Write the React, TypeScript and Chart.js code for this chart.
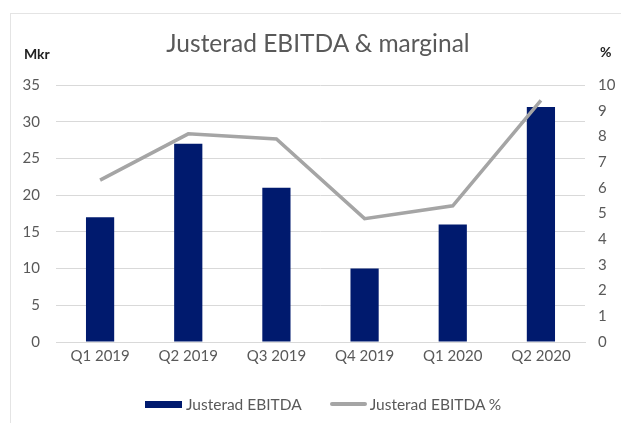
import React, { useEffect, useRef } from "react";
import { Chart, registerables } from "chart.js";

Chart.register(...registerables);

const categories = ["Q1 2019", "Q2 2019", "Q3 2019", "Q4 2019", "Q1 2020", "Q2 2020"];
const ebitda = [17, 27, 21, 10, 16, 32];
const marginal = [6.3, 8.1, 7.9, 4.8, 5.3, 9.4];
const leftTicks = [0, 5, 10, 15, 20, 25, 30, 35];
const rightTicks = [0, 1, 2, 3, 4, 5, 6, 7, 8, 9, 10];

const FONT = "Lato, 'Open Sans', sans-serif";
const TXT = "#595959";

export default function App() {
  const ref = useRef<HTMLCanvasElement>(null);
  useEffect(() => {
    if (!ref.current) return;
    const chart = new Chart(ref.current, {
      data: {
        labels: categories,
        datasets: [
          {
            type: "line",
            label: "Justerad EBITDA %",
            data: marginal,
            borderColor: "#a5a5a5",
            backgroundColor: "#a5a5a5",
            borderWidth: 3.5,
            pointRadius: 0,
            tension: 0,
            yAxisID: "y1",
            order: 0,
          },
          {
            type: "bar",
            label: "Justerad EBITDA",
            data: ebitda,
            backgroundColor: "#001a6e",
            barPercentage: 0.32,
            categoryPercentage: 1,
            yAxisID: "y",
            order: 1,
          },
        ],
      },
      options: {
        animation: false,
        responsive: false,
        layout: { padding: { top: 85, bottom: 0, left: 0, right: 0 } },
        plugins: { legend: { display: false }, tooltip: { enabled: false }, title: { display: false } },
        scales: {
          x: {
            grid: { display: false, drawTicks: false },
            border: { color: "#d9d9d9" },
            ticks: { color: TXT, font: { family: FONT, size: 15 }, padding: 5 },
            afterFit: (s: any) => { s.height = 423 - 342 - 0; },
          },
          y: {
            position: "left",
            min: 0,
            max: 35,
            afterBuildTicks: (s: any) => { s.ticks = leftTicks.map((v) => ({ value: v })); },
            grid: { color: "#d9d9d9", drawTicks: false },
            border: { display: false },
            ticks: { color: TXT, font: { family: FONT, size: 15 }, padding: 16 },
            afterFit: (s: any) => { s.width = 56; },
          },
          y1: {
            position: "right",
            min: 0,
            max: 10,
            afterBuildTicks: (s: any) => { s.ticks = rightTicks.map((v) => ({ value: v })); },
            grid: { display: false, drawTicks: false },
            border: { display: false },
            ticks: { color: TXT, font: { family: FONT, size: 15 }, padding: 13 },
            afterFit: (s: any) => { s.width = 36; },
          },
        },
      },
    });
    return () => chart.destroy();
  }, []);

  return (
    <div style={{ position: "absolute", left: 0, top: 0, width: 621, height: 423, background: "#fff", fontFamily: FONT }}>
      <div style={{ position: "absolute", left: 10, top: 13, width: 611, height: 410, borderTop: "1px solid #e4e4e4", borderLeft: "1px solid #e4e4e4" }} />
      <canvas ref={ref} width={621} height={423} style={{ position: "absolute", left: 0, top: 0 }} />
      <div style={{ position: "absolute", left: 0, width: 636, top: 28, textAlign: "center", fontSize: 24.5, color: TXT }}>
        Justerad EBITDA &amp; marginal
      </div>
      <div style={{ position: "absolute", left: 24, top: 45, fontSize: 14, fontWeight: 700, color: "#222" }}>Mkr</div>
      <div style={{ position: "absolute", left: 600, top: 43, fontSize: 14, fontWeight: 700, color: "#222" }}>%</div>
      <div style={{ position: "absolute", left: 145, top: 395, display: "flex", alignItems: "center", fontSize: 15.5, color: TXT }}>
        <span style={{ display: "inline-block", width: 37, height: 7, background: "#001a6e", marginRight: 4 }} />
        <span>Justerad EBITDA</span>
        <span style={{ display: "inline-block", width: 37, height: 4, borderRadius: 2, background: "#a5a5a5", marginLeft: 28, marginRight: 3 }} />
        <span>Justerad EBITDA %</span>
      </div>
    </div>
  );
}
